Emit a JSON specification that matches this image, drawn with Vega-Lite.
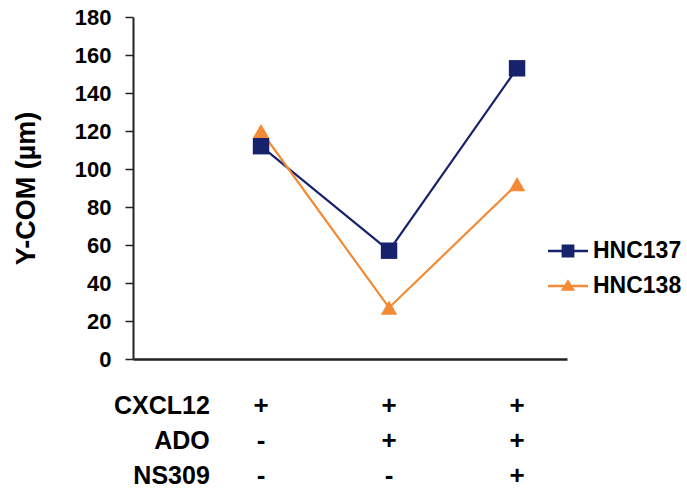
{
  "$schema": "https://vega.github.io/schema/vega-lite/v6.json",
  "padding": {"left": 12, "top": 6, "right": 0, "bottom": 0},
  "background": "white",
  "config": {
    "font": "Liberation Sans",
    "view": {"stroke": null},
    "concat": {"spacing": 18}
  },
  "datasets": {
    "series": [
      {"cond": 1, "line": "HNC137", "ycom": 112},
      {"cond": 2, "line": "HNC137", "ycom": 57},
      {"cond": 3, "line": "HNC137", "ycom": 153},
      {"cond": 1, "line": "HNC138", "ycom": 120},
      {"cond": 2, "line": "HNC138", "ycom": 27},
      {"cond": 3, "line": "HNC138", "ycom": 92}
    ],
    "table": [
      {"cond": 1, "factor": "CXCL12", "sign": "+"},
      {"cond": 2, "factor": "CXCL12", "sign": "+"},
      {"cond": 3, "factor": "CXCL12", "sign": "+"},
      {"cond": 1, "factor": "ADO", "sign": "-"},
      {"cond": 2, "factor": "ADO", "sign": "+"},
      {"cond": 3, "factor": "ADO", "sign": "+"},
      {"cond": 1, "factor": "NS309", "sign": "-"},
      {"cond": 2, "factor": "NS309", "sign": "-"},
      {"cond": 3, "factor": "NS309", "sign": "+"}
    ]
  },
  "vconcat": [
    {
      "width": 434,
      "height": 342,
      "data": {"name": "series"},
      "encoding": {
        "x": {
          "field": "cond",
          "type": "quantitative",
          "scale": {"domain": [0, 3.39], "nice": false, "zero": false},
          "axis": {
            "title": null,
            "labels": false,
            "ticks": false,
            "grid": false,
            "domainColor": "#222222",
            "domainWidth": 2.5
          }
        },
        "y": {
          "field": "ycom",
          "type": "quantitative",
          "scale": {"domain": [0, 180], "nice": false},
          "axis": {
            "title": "Y-COM (µm)",
            "titleFont": "Liberation Sans",
            "titleFontSize": 27,
            "titleFontWeight": "bold",
            "titleColor": "#000000",
            "titlePadding": 34,
            "values": [0, 20, 40, 60, 80, 100, 120, 140, 160, 180],
            "grid": false,
            "domainColor": "#222222",
            "domainWidth": 2,
            "tickColor": "#222222",
            "tickWidth": 1.5,
            "tickSize": 8,
            "labelFont": "Liberation Sans",
            "labelFontSize": 22,
            "labelFontWeight": "bold",
            "labelColor": "#000000",
            "labelPadding": 14
          }
        },
        "color": {
          "field": "line",
          "type": "nominal",
          "scale": {"domain": ["HNC137", "HNC138"], "range": ["#17226c", "#f28a36"]},
          "legend": {
            "title": null,
            "orient": "none",
            "legendX": 415,
            "legendY": 214,
            "symbolType": "M-1,-0.06H1V0.06H-1Z",
            "symbolSize": 1600,
            "symbolStrokeWidth": 0,
            "rowPadding": 3,
            "labelOffset": 5,
            "labelFont": "Liberation Sans",
            "labelFontSize": 23,
            "labelFontWeight": "bold",
            "labelColor": "#000000",
            "encode": {
              "symbols": {
                "update": {
                  "shape": {"signal": "datum.value === 'HNC137' ? 'M-1,-0.06H1V0.06H-1Z M-0.32,-0.32H0.32V0.32H-0.32Z' : 'M-1,-0.06H1V0.06H-1Z M0,-0.34L0.36,0.24H-0.36Z'"},
                  "fill": {"signal": "datum.value === 'HNC137' ? '#17226c' : '#f28a36'"},
                  "stroke": {"value": "transparent"},
                  "strokeWidth": {"value": 0}
                }
              }
            }
          }
        }
      },
      "layer": [
        {"mark": {"type": "line", "strokeWidth": 2.2}},
        {
          "transform": [{"filter": "datum.line === 'HNC137'"}],
          "mark": {"type": "point", "shape": "square", "filled": true, "opacity": 1, "size": 270}
        },
        {
          "transform": [{"filter": "datum.line === 'HNC138'"}],
          "mark": {"type": "point", "shape": "triangle-up", "filled": true, "opacity": 1, "size": 270}
        }
      ]
    },
    {
      "width": 434,
      "height": 105,
      "data": {"name": "table"},
      "encoding": {
        "x": {
          "field": "cond",
          "type": "quantitative",
          "scale": {"domain": [0, 3.39], "nice": false, "zero": false},
          "axis": null
        },
        "y": {
          "field": "factor",
          "type": "nominal",
          "sort": ["CXCL12", "ADO", "NS309"],
          "scale": {"type": "point", "padding": 0.5},
          "axis": null
        }
      },
      "layer": [
        {
          "mark": {"type": "text", "font": "Liberation Sans", "fontSize": 26, "fontWeight": "bold", "color": "#000000", "baseline": "middle"},
          "encoding": {"text": {"field": "sign"}}
        },
        {
          "transform": [{"filter": "datum.cond === 1"}],
          "mark": {"type": "text", "font": "Liberation Sans", "fontSize": 25, "fontWeight": "bold", "color": "#000000", "align": "right", "baseline": "middle"},
          "encoding": {
            "x": {"datum": 0.6, "type": "quantitative"},
            "text": {"field": "factor"}
          }
        }
      ]
    }
  ]
}
